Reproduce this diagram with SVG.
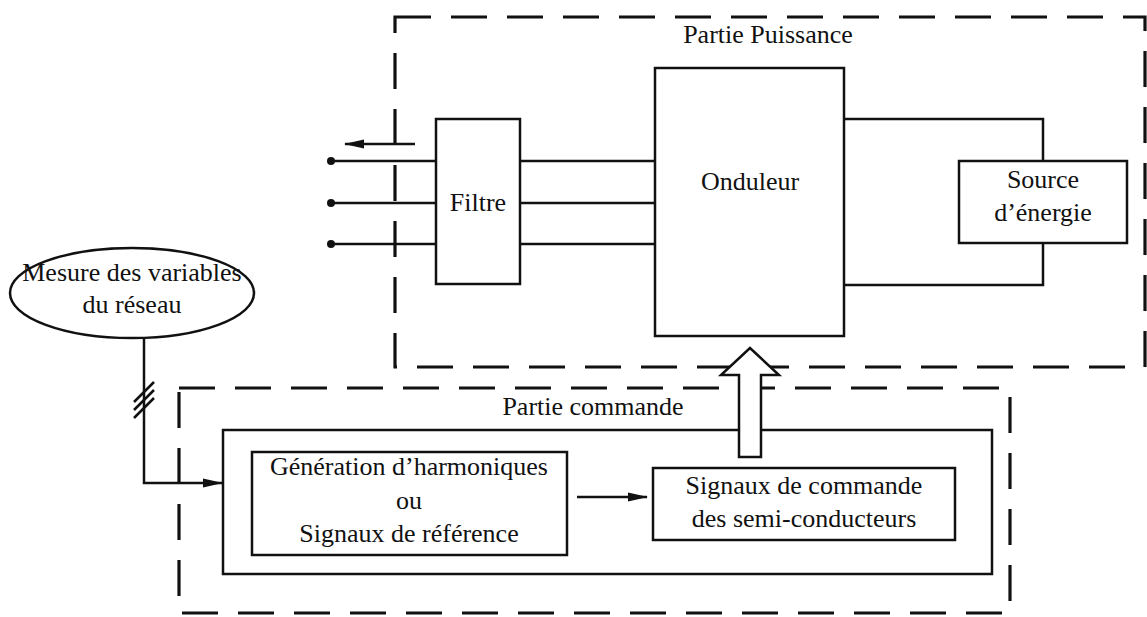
<svg xmlns="http://www.w3.org/2000/svg" width="1147" height="617" viewBox="0 0 1147 617">
<style>
.t{font-family:"Liberation Serif","Times New Roman",serif;font-size:26px;fill:#111;text-anchor:middle}
.box{fill:none;stroke:#111;stroke-width:2.5}
.dash{fill:none;stroke:#111;stroke-width:3.2;stroke-dasharray:36 20}
.ln{fill:none;stroke:#111;stroke-width:2.5}
</style>
<defs>
<marker id="ah2" viewBox="0 0 20 12" refX="19" refY="6" markerWidth="20" markerHeight="12" markerUnits="userSpaceOnUse" orient="auto">
<path d="M0,1.5 L20,6 L0,10.5 Z" fill="#111"/>
</marker>
</defs>
<rect width="1147" height="617" fill="#fff"/>

<g id="partie-puissance">
<rect class="dash" x="395" y="17" width="750" height="350"/>
<text class="t" x="768" y="43">Partie Puissance</text>
</g>

<g id="partie-commande">
<rect class="dash" x="179" y="388" width="831" height="225"/>
<text class="t" x="593" y="415">Partie commande</text>
<rect class="box" x="223" y="430" width="769" height="144"/>
</g>

<g id="filtre">
<rect class="box" x="436" y="119" width="84" height="165" fill="#fff"/>
<text class="t" x="478" y="211">Filtre</text>
</g>

<g id="onduleur">
<rect class="box" x="655" y="68" width="189" height="268"/>
<text class="t" x="750" y="190">Onduleur</text>
</g>

<g id="source">
<rect class="box" x="959" y="161" width="168" height="82"/>
<text class="t" x="1043" y="188">Source</text>
<text class="t" x="1043" y="221">d’énergie</text>
</g>

<g id="mesure">
<ellipse class="box" cx="132" cy="293" rx="122" ry="45"/>
<text class="t" x="132" y="281">Mesure des variables</text>
<text class="t" x="132" y="313">du réseau</text>
</g>

<g id="generation">
<rect class="box" x="252" y="452" width="315" height="103"/>
<text class="t" x="409" y="475">Génération d’harmoniques</text>
<text class="t" x="409" y="509">ou</text>
<text class="t" x="409" y="542">Signaux de référence</text>
</g>

<g id="signaux">
<rect class="box" x="653" y="468" width="302" height="72"/>
<text class="t" x="804" y="494">Signaux de commande</text>
<text class="t" x="804" y="527">des semi-conducteurs</text>
</g>

<g id="connectors">
<path class="ln" d="M331,161 H436 M331,203 H436 M331,244 H436"/>
<circle cx="331" cy="161" r="4" fill="#111"/>
<circle cx="331" cy="203" r="4" fill="#111"/>
<circle cx="331" cy="244" r="4" fill="#111"/>
<path class="ln" d="M415,144 H345" marker-end="url(#ah2)"/>
<path class="ln" d="M520,161 H655 M520,203 H655 M520,244 H655"/>
<path class="ln" d="M844,119 H1043 V161 M844,285 H1043 V243"/>
<path class="ln" d="M144,338 V483 H222" marker-end="url(#ah2)"/>
<path class="ln" d="M134,402 L154,382 M134,410 L154,390 M134,418 L154,398" stroke-width="2"/>
<path class="ln" d="M577,497 H647" marker-end="url(#ah2)"/>
<path d="M739,457 V375 H721 L750,348 L779,375 H761 V457 Z" fill="#fff" stroke="#111" stroke-width="2.5" stroke-linejoin="miter"/>
</g>
</svg>
